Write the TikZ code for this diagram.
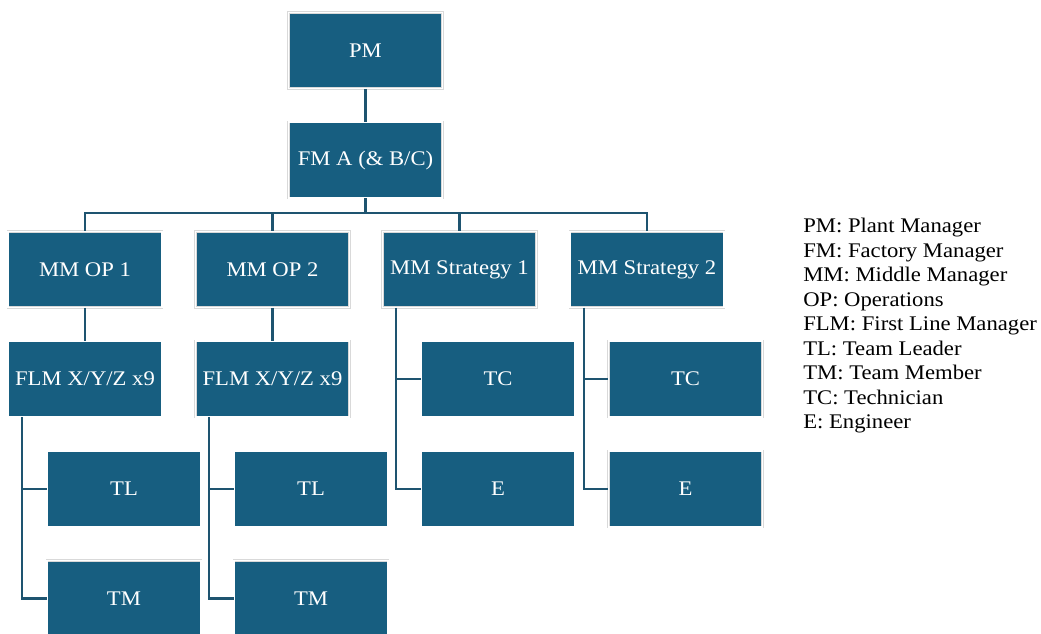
\documentclass[tikz,border=0pt]{standalone}
\usepackage{fontspec}
\setmainfont{Liberation Serif}[FakeStretch=1.09]
\usepackage{xcolor}

\definecolor{orgblue}{RGB}{23,94,128}
\definecolor{orgline}{RGB}{30,84,112}

\begin{document}
\begin{tikzpicture}[x=0.75pt,y=0.75pt,
  box/.style={fill=orgblue,draw=black!15,double=white,double distance=1.1pt,line width=0.45pt,
    minimum width=115.5pt,minimum height=57pt,inner sep=2pt,text=white,font=\fontsize{15.6}{18}\selectfont},
  link/.style={draw=orgline,line width=1.6pt}]
\clip (0,0) rectangle (1041,-633);
% top of the tree
\node[box] (pm) at (365.5,-50.5) {PM};
\node[box] (fm) at (365.5,-160) {FM A (\& B/C)};
% middle managers
\node[box] (mm1) at (85,-269.5) {MM OP 1};
\node[box] (mm2) at (272.5,-269.5) {MM OP 2};
\node[box] (mm3) at (459.5,-269.5) {MM Strategy 1};
\node[box] (mm4) at (647,-269.5) {MM Strategy 2};
% operations branches
\node[box] (flm1) at (85,-379) {FLM X/Y/Z x9};
\node[box] (flm2) at (272.5,-379) {FLM X/Y/Z x9};
\node[box] (tl1) at (124,-489) {TL};
\node[box] (tl2) at (311,-489) {TL};
\node[box] (tm1) at (124,-598.5) {TM};
\node[box] (tm2) at (311,-598.5) {TM};
% strategy branches
\node[box] (tc1) at (498,-379) {TC};
\node[box] (tc2) at (685.5,-379) {TC};
\node[box] (e1) at (498,-489) {E};
\node[box] (e2) at (685.5,-489) {E};

\draw[link] (pm.south) -- (fm.north);
\foreach \m in {mm1,mm2,mm3,mm4}
  \draw[link] (fm.south) -- ++(0,-15) -| (\m.north);
\draw[link] (mm1.south) -- (flm1.north);
\draw[link] (mm2.south) -- (flm2.north);
\draw[link] ([xshift=10.5pt]flm1.south west) |- (tl1.west);
\draw[link] ([xshift=10.5pt]flm1.south west) |- (tm1.west);
\draw[link] ([xshift=10.5pt]flm2.south west) |- (tl2.west);
\draw[link] ([xshift=10.5pt]flm2.south west) |- (tm2.west);
\draw[link] ([xshift=10.5pt]mm3.south west) |- (tc1.west);
\draw[link] ([xshift=10.5pt]mm3.south west) |- (e1.west);
\draw[link] ([xshift=10.5pt]mm4.south west) |- (tc2.west);
\draw[link] ([xshift=10.5pt]mm4.south west) |- (e2.west);

% legend
\node[anchor=north west,inner sep=0pt,align=left,font=\fontsize{15.6}{18.4}\selectfont] (legend) at (803,-218)
  {PM: Plant Manager\\
   FM: Factory Manager\\
   MM: Middle Manager\\
   OP: Operations\\
   FLM: First Line Manager\\
   TL: Team Leader\\
   TM: Team Member\\
   TC: Technician\\
   E: Engineer};
\end{tikzpicture}
\end{document}
